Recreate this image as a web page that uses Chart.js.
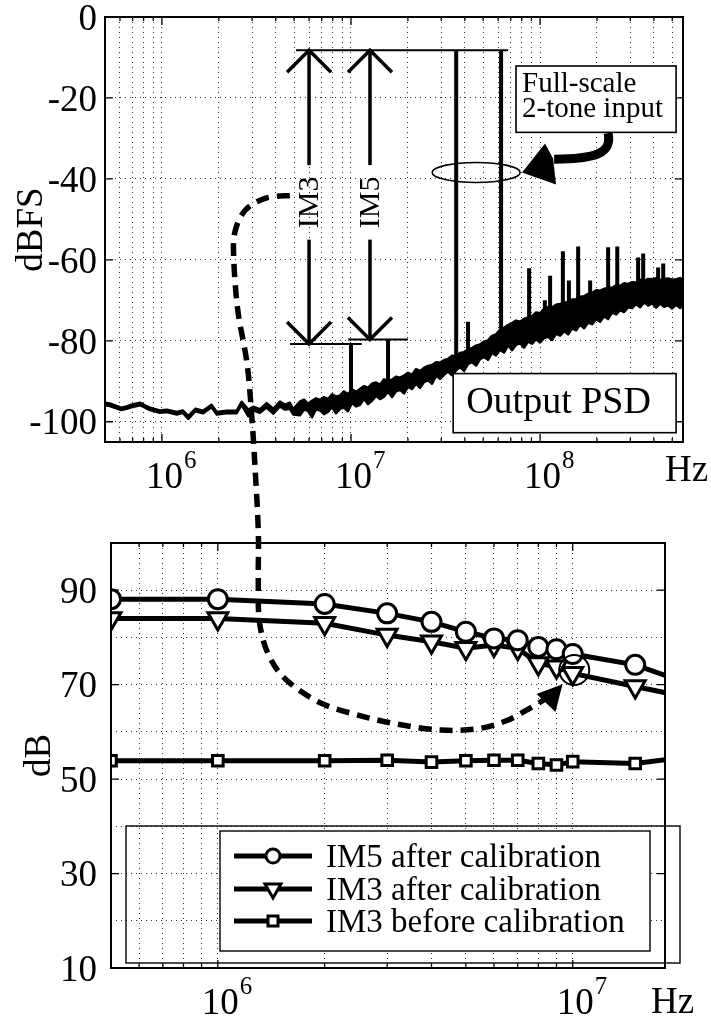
<!DOCTYPE html>
<html lang="en">
<head>
<meta charset="UTF-8">
<title>Output PSD and IM products</title>
<script src="https://cdn.jsdelivr.net/npm/chart.js@4"></script>
<style>
  body { margin: 0; background: #fff; }
  #wrap { position: relative; width: 711px; height: 1021px; }
  canvas { position: absolute; left: 0; }
  #psd { top: 0; }
  #im { top: 500px; }
  #overlay { top: 0; pointer-events: none; }
</style>
</head>
<body>
<div id="wrap">
  <canvas id="psd" width="711" height="500"></canvas>
  <canvas id="im" width="711" height="521"></canvas>
  <canvas id="overlay" width="711" height="1021"></canvas>
</div>
<script>
const SERIF = '"Liberation Serif", "Times New Roman", serif';

// ---- top plot: output PSD (Hz / dBFS), noise floor read as an upper and lower edge
const psdFreq = [5.0e5, 5.3e5, 5.75e5, 6.1e5, 6.5e5, 6.9e5, 7.65e5, 8.2e5, 8.65e5, 9.75e5,
  1.06e6, 1.2e6, 1.29e6, 1.38e6, 1.5e6, 1.65e6, 1.83e6, 1.95e6, 2.2e6, 2.48e6,
  2.64e6, 2.86e6, 3.04e6, 3.3e6, 3.58e6, 3.88e6, 4.21e6, 4.48e6, 4.75e6, 4.95e6,
  5.37e6, 5.64e6, 5.92e6, 6.22e6, 6.53e6, 6.86e6, 7.20e6, 7.56e6, 7.94e6, 8.33e6,
  8.75e6, 9.18e6, 9.64e6, 1.012e7, 1.063e7, 1.116e7, 1.172e7, 1.230e7, 1.291e7, 1.356e7,
  1.424e7, 1.495e7, 1.570e7, 1.648e7, 1.730e7, 1.817e7, 1.907e7, 2.002e7, 2.102e7, 2.207e7,
  2.318e7, 2.433e7, 2.555e7, 2.683e7, 2.817e7, 2.957e7, 3.105e7, 3.260e7, 3.423e7, 3.594e7,
  3.773e7, 3.962e7, 4.159e7, 4.367e7, 4.585e7, 4.814e7, 5.054e7, 5.306e7, 5.571e7, 5.849e7,
  6.141e7, 6.448e7, 6.770e7, 7.108e7, 7.463e7, 7.835e7, 8.227e7, 8.637e7, 9.068e7, 9.521e7,
  1.000e8, 1.050e8, 1.102e8, 1.157e8, 1.215e8, 1.276e8, 1.340e8, 1.407e8, 1.477e8, 1.551e8,
  1.628e8, 1.709e8, 1.795e8, 1.884e8, 1.978e8, 2.077e8, 2.181e8, 2.290e8, 2.404e8, 2.524e8,
  2.650e8, 2.783e8, 2.922e8, 3.068e8, 3.221e8, 3.382e8, 3.550e8, 3.728e8, 3.914e8, 4.109e8,
  4.314e8, 4.530e8, 4.756e8, 4.994e8, 5.243e8, 5.505e8, 5.70e8];
const psdUpper = [-95.3, -95.5, -96.1, -96.5, -96.2, -95.8, -95.3, -96.0, -96.5, -97.2,
  -97.0, -97.6, -97.2, -98.6, -96.8, -97.3, -95.8, -97.6, -97.3, -97.3,
  -95.1, -97.0, -96.3, -96.9, -95.4, -96.8, -95.0, -95.8, -95.3, -96.9,
  -95.0, -94.5, -95.6, -94.8, -94.2, -94.6, -93.9, -94.4, -93.2, -93.8,
  -93.5, -92.5, -93.2, -92.0, -92.6, -91.9, -91.2, -91.6, -90.6, -90.3,
  -90.9, -89.5, -90.0, -89.6, -88.9, -89.1, -88.6, -87.9, -88.4, -87.0,
  -87.5, -86.7, -86.2, -86.0, -85.3, -85.4, -84.8, -84.5, -83.7, -83.9,
  -83.0, -82.8, -82.1, -81.8, -81.2, -80.9, -80.2, -79.9, -78.8, -78.4,
  -77.3, -76.8, -76.1, -75.6, -75.0, -75.3, -74.6, -74.2, -73.9, -73.0,
  -73.2, -72.1, -71.7, -71.8, -71.1, -70.9, -70.6, -70.4, -69.8, -69.7,
  -69.1, -69.0, -68.4, -68.2, -67.5, -67.6, -67.2, -66.8, -66.9, -66.3,
  -66.4, -65.8, -66.0, -65.5, -65.6, -64.9, -65.3, -64.7, -64.8, -64.5,
  -65.0, -64.7, -64.6, -64.9, -64.8, -64.5, -65.0];
const psdLower = [-95.9, -96.1, -96.7, -97.1, -96.8, -96.4, -95.9, -96.6, -97.1, -97.8,
  -97.6, -98.2, -97.8, -99.3, -97.4, -97.9, -96.4, -98.2, -97.9, -97.9,
  -95.8, -98.6, -97.2, -97.8, -96.5, -98.0, -96.2, -97.0, -96.8, -98.2,
  -98.4, -97.0, -97.3, -98.9, -96.9, -97.2, -98.1, -97.5, -96.4, -97.9,
  -96.8, -96.5, -97.4, -95.3, -96.2, -95.8, -94.3, -95.6, -94.8, -93.6,
  -94.4, -93.8, -92.6, -93.9, -92.5, -92.1, -93.0, -91.4, -91.9, -90.6,
  -91.6, -90.2, -89.7, -90.6, -88.6, -89.4, -88.4, -87.6, -88.5, -87.3,
  -86.5, -87.4, -85.7, -85.3, -86.1, -84.5, -84.0, -84.7, -83.0, -83.6,
  -82.2, -82.9, -81.1, -82.3, -81.0, -80.6, -81.7, -80.2, -80.7, -79.6,
  -80.4, -79.3, -79.0, -79.8, -78.2, -78.7, -77.6, -78.4, -76.9, -77.4,
  -76.0, -76.9, -75.5, -75.9, -74.6, -75.3, -73.9, -74.6, -73.0, -73.5,
  -72.4, -72.9, -71.7, -71.9, -70.9, -71.7, -70.5, -71.3, -70.7, -71.8,
  -70.8, -71.6, -71.2, -72.0, -71.1, -71.9, -71.3];

// tones and spurs: frequency, peak and the floor level they rise from
const spurFreq = [1.0e7, 1.57e7, 3.6e7, 4.16e7, 6.22e7, 8.75e7, 9.76e7, 1.06e8, 1.13e8, 1.32e8,
  1.42e8, 1.59e8, 1.84e8, 2.03e8, 2.29e8, 2.56e8, 3.3e8, 3.51e8, 4.21e8, 4.48e8];
const spurPeak = [-80.8, -79.7, -8.2, -75.3, -8.2, -62.1, -73.8, -70.0, -63.9, -57.9,
  -65.1, -56.7, -65.1, -67.6, -56.9, -56.7, -59.4, -58.4, -61.9, -60.9];
const spurBase = [-94.0, -92.0, -86.0, -85.0, -81.0, -79.0, -78.0, -77.0, -77.0, -76.0,
  -75.0, -74.0, -73.0, -72.0, -71.0, -70.0, -69.0, -69.0, -68.0, -68.0];

const psdYTicks = [-100, -80, -60, -40, -20, 0];

// ---- bottom plot: IM levels (dB) vs tone frequency (Hz)
const imFreq = [5e5, 1e6, 2e6, 3e6, 4e6, 5e6, 6e6, 7e6, 8e6, 9e6, 1e7, 1.5e7, 2e7];
const im5After = [88.1, 88.1, 87.1, 85.1, 83.3, 81.2, 79.8, 79.4, 78.0, 77.5, 76.5, 74.2, 70.9];
const im3After = [84.0, 84.0, 83.0, 80.5, 79.1, 77.7, 78.4, 77.7, 74.5, 73.8, 72.4, 69.6, 67.7];
const im3Before = [53.9, 53.9, 53.9, 54.0, 53.6, 53.9, 54.0, 54.0, 53.3, 53.0, 53.7, 53.3, 54.5];
const imLabels = ['IM5 after calibration', 'IM3 after calibration', 'IM3 before calibration'];
const imYTicks = [10, 20, 30, 40, 50, 60, 70, 80, 90, 100];
const imYLabels = [10, 30, 50, 70, 90];

function logTicks(min, max) {
  const t = [];
  for (let e = Math.floor(Math.log10(min)); e <= Math.ceil(Math.log10(max)); e++) {
    for (let m = 1; m < 10; m++) {
      const v = m * Math.pow(10, e);
      if (v >= min * 0.999 && v <= max * 1.001) t.push({ value: v });
    }
  }
  return t;
}
const isDecade = v => Math.abs(Math.log10(v) - Math.round(Math.log10(v))) < 1e-9;

// MATLAB-like frame: box, inward ticks, 10^n labels, Hz and y title
function makeAxisDeco(cfg) {
  return {
    id: 'axisDeco',
    afterDraw(chart) {
      const { ctx, chartArea: a } = chart;
      const xs = chart.scales.x, ys = chart.scales.y;
      ctx.save();
      ctx.strokeStyle = '#000';
      ctx.lineWidth = 1.3;
      ctx.beginPath();
      xs.ticks.forEach(t => {
        const p = xs.getPixelForValue(t.value);
        const len = isDecade(t.value) ? 8 : 4;
        ctx.moveTo(p, a.bottom); ctx.lineTo(p, a.bottom - len);
        ctx.moveTo(p, a.top); ctx.lineTo(p, a.top + len);
      });
      ys.ticks.forEach(t => {
        if (!cfg.yLabels.includes(t.value)) return;
        const p = ys.getPixelForValue(t.value);
        ctx.moveTo(a.left, p); ctx.lineTo(a.left + 8, p);
        ctx.moveTo(a.right, p); ctx.lineTo(a.right - 8, p);
      });
      ctx.stroke();
      ctx.lineWidth = 2;
      ctx.strokeRect(a.left, a.top, a.right - a.left, a.bottom - a.top);

      ctx.fillStyle = '#000';
      ctx.textBaseline = 'alphabetic';
      xs.ticks.forEach(t => {
        if (!isDecade(t.value)) return;
        const p = xs.getPixelForValue(t.value);
        ctx.font = '37px ' + SERIF;
        ctx.textAlign = 'right';
        ctx.fillText('10', p + 21, a.bottom + 46);
        ctx.font = '25px ' + SERIF;
        ctx.textAlign = 'left';
        ctx.fillText(String(Math.round(Math.log10(t.value))), p + 22, a.bottom + 26);
      });
      ctx.font = '37px ' + SERIF;
      ctx.textAlign = 'left';
      ctx.fillText('Hz', cfg.hzX, a.bottom + cfg.hzDy);

      ctx.translate(cfg.titleX, (a.top + a.bottom) / 2);
      ctx.rotate(-Math.PI / 2);
      ctx.textAlign = 'center';
      ctx.fillText(cfg.title, 0, 0);
      ctx.restore();
    }
  };
}

const gridStyle = { color: '#333', lineWidth: 1, drawTicks: false };
const gridDash = { display: false, dash: [1, 4] };
const tickFont = { family: SERIF, size: 37 };

const spurPoints = [];
spurFreq.forEach((f, i) => {
  spurPoints.push({ x: f, y: spurBase[i] }, { x: f, y: spurPeak[i] }, { x: f, y: null });
});

const psdChart = new Chart(document.getElementById('psd'), {
  type: 'line',
  data: {
    datasets: [
      { data: psdFreq.map((f, i) => ({ x: f, y: psdUpper[i] })), borderColor: '#000', borderWidth: 2.5, borderJoinStyle: 'round', pointRadius: 0, fill: false },
      { data: psdFreq.map((f, i) => ({ x: f, y: psdLower[i] })), borderColor: '#000', borderWidth: 2.5, borderJoinStyle: 'round', pointRadius: 0, fill: '-1', backgroundColor: '#000' },
      { data: spurPoints, borderColor: '#000', borderWidth: 4, pointRadius: 0, spanGaps: false, fill: false }
    ]
  },
  options: {
    responsive: false, animation: false, events: [],
    layout: { padding: { top: 17, right: 28, left: 0, bottom: 0 } },
    plugins: { legend: { display: false }, tooltip: { enabled: false } },
    elements: { line: { tension: 0 } },
    scales: {
      x: {
        type: 'logarithmic', min: 5e5, max: 5.7e8,
        afterBuildTicks: s => { s.ticks = logTicks(5e5, 5.7e8); },
        afterFit: s => { s.height = 58; s.paddingLeft = 0; s.paddingRight = 0; },
        ticks: { display: false }, grid: gridStyle, border: gridDash
      },
      y: {
        min: -105, max: 0,
        afterBuildTicks: s => { s.ticks = psdYTicks.map(v => ({ value: v })); },
        afterFit: s => { s.width = 105; s.paddingTop = 0; s.paddingBottom = 0; },
        ticks: { font: tickFont, color: '#000', padding: 8, autoSkip: false, labelOffset: 3, callback: v => String(v) },
        grid: gridStyle, border: gridDash
      }
    }
  },
  plugins: [makeAxisDeco({ yLabels: psdYTicks, hzX: 665, hzDy: 39, titleX: 42, title: 'dBFS' })]
});

const seriesStyle = { borderColor: '#000', borderWidth: 5, pointBorderColor: '#000', pointBackgroundColor: '#fff', pointBorderWidth: 3, fill: false };
const imChart = new Chart(document.getElementById('im'), {
  type: 'line',
  data: {
    datasets: [
      Object.assign({ label: imLabels[0], data: imFreq.map((f, i) => ({ x: f, y: im5After[i] })), pointStyle: 'circle', pointRadius: 9.5 }, seriesStyle),
      Object.assign({ label: imLabels[1], data: imFreq.map((f, i) => ({ x: f, y: im3After[i] })), pointStyle: 'triangle', pointRotation: 180, pointRadius: 11.5 }, seriesStyle),
      Object.assign({ label: imLabels[2], data: imFreq.map((f, i) => ({ x: f, y: im3Before[i] })), pointStyle: 'rect', pointRadius: 7.5 }, seriesStyle)
    ]
  },
  options: {
    responsive: false, animation: false, events: [],
    layout: { padding: { top: 43, right: 46, left: 0, bottom: 0 } },
    plugins: { legend: { display: false }, tooltip: { enabled: false } },
    elements: { line: { tension: 0 } },
    scales: {
      x: {
        type: 'logarithmic', min: 5e5, max: 1.82e7,
        afterBuildTicks: s => { s.ticks = logTicks(5e5, 1.82e7); },
        afterFit: s => { s.height = 53; s.paddingLeft = 0; s.paddingRight = 0; },
        ticks: { display: false }, grid: gridStyle, border: gridDash
      },
      y: {
        min: 10, max: 100,
        afterBuildTicks: s => { s.ticks = imYTicks.map(v => ({ value: v })); },
        afterFit: s => { s.width = 111; s.paddingTop = 0; s.paddingBottom = 0; },
        ticks: { font: tickFont, color: '#000', padding: 14, autoSkip: false, labelOffset: 3,
          callback: v => (imYLabels.includes(v) ? String(v) : '') },
        grid: gridStyle, border: gridDash
      }
    }
  },
  plugins: [makeAxisDeco({ yLabels: imYLabels, hzX: 651, hzDy: 45, titleX: 50, title: 'dB' })]
});

// ---- annotations drawn over both plots
const IM_TOP = 500;
const T = (f, v) => [psdChart.scales.x.getPixelForValue(f), psdChart.scales.y.getPixelForValue(v)];
const B = (f, v) => [imChart.scales.x.getPixelForValue(f), imChart.scales.y.getPixelForValue(v) + IM_TOP];

const toneTopDb = -8.2;
const toneBar = [5.12e6, 6.78e7];
const imArrows = [
  { label: 'IM3', f: 6.0e6, low: -80.8, from: 4.76e6, to: 1.14e7 },
  { label: 'IM5', f: 1.26e7, low: -79.7, from: 9.65e6, to: 2.0e7 }
];
const arrowGap = [-36.6, -55.0];
const ring = { f: 4.59e7, v: -38.4 };
const inputBox = { f0: 7.46e7, f1: 5.24e8, v0: -12.1, v1: -28.5 };
const curlFrom = { f: 2.29e8, v: -28.7 };
const curlTip = { f: 8.03e7, v: -38.4 };
const psdBox = { f0: 3.47e7, f1: 5.24e8, v0: -88.1, v1: -102.7 };
const linkTop = [[4.75e6, -44.1], [3.51e6, -44.8], [2.75e6, -47.8], [2.43e6, -53.2], [2.40e6, -60.1],
  [2.52e6, -72.5], [2.82e6, -85.6], [2.99e6, -99.0], [3.10e6, -110.4]];
const linkBottom = [[1.30e6, 102.75], [1.30e6, 92.2], [1.31e6, 83.3], [1.39e6, 76.3], [1.56e6, 71.0],
  [1.95e6, 66.1], [2.53e6, 63.4], [3.28e6, 61.5], [4.25e6, 60.4], [5.33e6, 60.6], [6.47e6, 62.3],
  [7.61e6, 65.1], [8.55e6, 67.4]];
const linkHead = [[9.36e6, 70.1], [7.91e6, 68.0], [8.94e6, 64.2]];
const hilite = { f: 1.01e7, v: 73.1 };

const ctx = document.getElementById('overlay').getContext('2d');
ctx.strokeStyle = '#000';
ctx.fillStyle = '#000';

function seg(x1, y1, x2, y2) { ctx.beginPath(); ctx.moveTo(x1, y1); ctx.lineTo(x2, y2); ctx.stroke(); }

// tone level bar
ctx.lineWidth = 2;
seg(...T(toneBar[0], toneTopDb), ...T(toneBar[1], toneTopDb));

// IM3 / IM5 double arrows
imArrows.forEach(a => {
  const [x, yTop] = T(a.f, toneTopDb);
  const yBot = T(a.f, a.low)[1];
  ctx.lineWidth = 3.5;
  seg(x, yTop, x, T(a.f, arrowGap[0])[1]);
  seg(x, T(a.f, arrowGap[1])[1], x, yBot);
  ctx.beginPath();
  ctx.moveTo(x - 22, yTop + 22); ctx.lineTo(x, yTop); ctx.lineTo(x + 22, yTop + 22);
  ctx.moveTo(x - 22, yBot - 22); ctx.lineTo(x, yBot); ctx.lineTo(x + 22, yBot - 22);
  ctx.stroke();
  ctx.lineWidth = 2;
  seg(...T(a.from, a.low), ...T(a.to, a.low));
  ctx.save();
  ctx.translate(x + 1, T(a.f, (arrowGap[0] + arrowGap[1]) / 2)[1]);
  ctx.rotate(-Math.PI / 2);
  ctx.font = '30px ' + SERIF;
  ctx.textAlign = 'center';
  ctx.textBaseline = 'middle';
  ctx.fillText(a.label, 0, 0);
  ctx.restore();
});

// ellipse around the two tones
ctx.lineWidth = 1.6;
ctx.beginPath();
ctx.ellipse(...T(ring.f, ring.v), 44, 10, 0, 0, Math.PI * 2);
ctx.stroke();

// text boxes
function textBox(b, lines, font, dx, baselines) {
  const [x0, y0] = T(b.f0, b.v0);
  const [x1, y1] = T(b.f1, b.v1);
  ctx.fillStyle = '#fff';
  ctx.fillRect(x0, y0, x1 - x0, y1 - y0);
  ctx.lineWidth = 1.6;
  ctx.strokeRect(x0, y0, x1 - x0, y1 - y0);
  ctx.fillStyle = '#000';
  ctx.font = font;
  ctx.textAlign = 'left';
  ctx.textBaseline = 'alphabetic';
  lines.forEach((s, i) => ctx.fillText(s, x0 + dx, y0 + baselines[i]));
}
textBox(inputBox, ['Full-scale', '2-tone input'], '29px ' + SERIF, 6, [26, 51]);
textBox(psdBox, ['Output PSD'], '38px ' + SERIF, 13, [39]);

// curled pointer from the box to the ellipse
{
  const [sx, sy] = T(curlFrom.f, curlFrom.v);
  const [tx, ty] = T(curlTip.f, curlTip.v);
  ctx.lineWidth = 9;
  ctx.lineCap = 'butt';
  ctx.beginPath();
  ctx.moveTo(sx, sy);
  ctx.bezierCurveTo(sx + 4, sy + 20, sx - 12, sy + 26, sx - 54, sy + 26);
  ctx.stroke();
  ctx.beginPath();
  ctx.moveTo(tx, ty);
  ctx.lineTo(tx + 23, ty - 29);
  ctx.lineTo(tx + 31, ty - 14);
  ctx.lineTo(tx + 34, ty + 12);
  ctx.closePath();
  ctx.fill();
}

// dashed link from the PSD to the highlighted IM3 point
{
  const pts = linkTop.map(p => T(p[0], p[1])).concat(linkBottom.map(p => B(p[0], p[1])));
  ctx.save();
  ctx.lineWidth = 5.5;
  ctx.setLineDash([13, 8]);
  ctx.beginPath();
  ctx.moveTo(pts[0][0], pts[0][1]);
  for (let i = 0; i < pts.length - 1; i++) {
    const p0 = pts[Math.max(i - 1, 0)], p1 = pts[i], p2 = pts[i + 1], p3 = pts[Math.min(i + 2, pts.length - 1)];
    ctx.bezierCurveTo(p1[0] + (p2[0] - p0[0]) / 6, p1[1] + (p2[1] - p0[1]) / 6,
      p2[0] - (p3[0] - p1[0]) / 6, p2[1] - (p3[1] - p1[1]) / 6, p2[0], p2[1]);
  }
  ctx.stroke();
  ctx.restore();
  const h = linkHead.map(p => B(p[0], p[1]));
  ctx.beginPath();
  ctx.moveTo(h[0][0], h[0][1]); ctx.lineTo(h[1][0], h[1][1]); ctx.lineTo(h[2][0], h[2][1]);
  ctx.closePath();
  ctx.fill();
  ctx.lineWidth = 2;
  ctx.beginPath();
  ctx.arc(...B(hilite.f, hilite.v), 15, 0, Math.PI * 2);
  ctx.stroke();
}

// legend of the bottom plot
{
  ctx.lineWidth = 1.4;
  ctx.strokeRect(126, 826, 554, 137);
  ctx.fillStyle = '#fff';
  ctx.fillRect(220, 831, 430, 120);
  ctx.strokeRect(220, 831, 430, 120);
  const rows = [867, 900, 932];
  const styles = ['circle', 'triangle', 'rect'];
  ctx.font = '33px ' + SERIF;
  ctx.textAlign = 'left';
  ctx.textBaseline = 'alphabetic';
  rows.forEach((yb, i) => {
    const y = yb - 11;
    ctx.lineWidth = 5;
    seg(234, y, 312, y);
    ctx.lineWidth = 3;
    ctx.fillStyle = '#fff';
    ctx.beginPath();
    if (styles[i] === 'circle') {
      ctx.arc(273, y, 7, 0, Math.PI * 2);
    } else if (styles[i] === 'triangle') {
      ctx.moveTo(265, y - 5); ctx.lineTo(281, y - 5); ctx.lineTo(273, y + 9); ctx.closePath();
    } else {
      ctx.rect(268, y - 5, 10, 10);
    }
    ctx.fill();
    ctx.stroke();
    ctx.fillStyle = '#000';
    ctx.fillText(imLabels[i], 326, yb);
  });
}
</script>
</body>
</html>
